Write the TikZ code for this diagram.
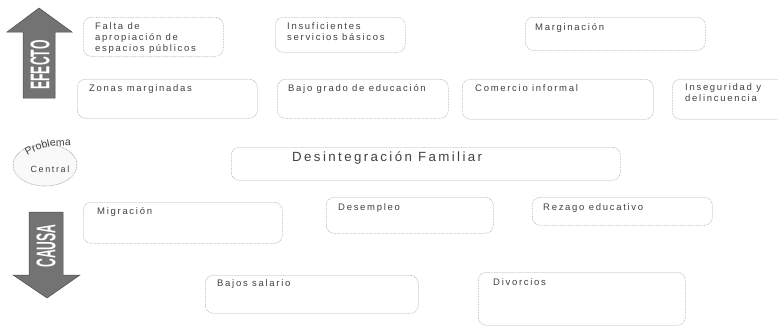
\documentclass[tikz,border=0pt]{standalone}
\usepackage{xcolor}
\usepackage{fontspec}
\usepackage{tikz}
\usetikzlibrary{shapes.geometric,decorations.text}
\newfontfamily\cajafont[LetterSpace=18]{Liberation Sans}
\newfontfamily\flechafont{Liberation Sans}
\newcommand\elipsefont{\cajafont\fontsize{9}{10}\selectfont}
\newcommand\arcofont{\cajafont\fontsize{10.5}{11}\selectfont}

\begin{document}
\begin{tikzpicture}[x=1pt,y=-1pt,
  caja/.style={draw=gray!60,dash pattern=on 0.8pt off 0.8pt,line width=0.6pt,rounded corners=8pt,anchor=north west,inner sep=0pt},
  texto/.style={anchor=north west,inner sep=0pt,align=left,text=black!75,font=\cajafont\fontsize{9.5}{11}\selectfont},
  flecha/.style={fill=black!55,draw=black!70,line width=0.5pt},
  rotulo/.style={rotate=90,text=white,font=\flechafont\bfseries\fontsize{27}{27}\selectfont}]
  \useasboundingbox (0,0) rectangle (778,327);
  \clip (0,0) rectangle (778,327);

  \fill[flecha] (23,98) -- (23,32) -- (7,32) -- (39,8) -- (72,32) -- (55,32) -- (55,98) -- cycle;
  \node[rotulo] (efecto) at (40,65) {\scalebox{0.45}[1]{EFECTO}};
  \fill[flecha] (29,212) -- (63,212) -- (63,275) -- (80,275) -- (47,298) -- (13,275) -- (29,275) -- cycle;
  \node[rotulo] (causa) at (46,246) {\scalebox{0.45}[1]{CAUSA}};

  \node[ellipse,draw=gray!80,dash pattern=on 0.8pt off 0.8pt,line width=0.6pt,fill=gray!5,minimum width=64pt,minimum height=42pt] (central) at (45,165) {};
  \path[decorate,decoration={text along path,text align=center,text color=black!75,text={|\arcofont|Problema}}] (21,161) .. controls (33,149) and (55,143) .. (79,147);
  \node[texto,anchor=center,font=\elipsefont] (centralT) at (50,169) {Central};

  \node[caja,minimum width=140pt,minimum height=39pt] (falta) at (83,17) {};
  \node[texto] (faltaT) at ([shift={(12,5)}]falta.north west) {Falta de\\apropiación de\\espacios públicos};
  \node[caja,minimum width=130pt,minimum height=35pt] (servicios) at (275,17) {};
  \node[texto] (serviciosT) at ([shift={(12,5)}]servicios.north west) {Insuficientes\\servicios básicos};
  \node[caja,minimum width=180pt,minimum height=33pt] (marginacion) at (525,17) {};
  \node[texto] (marginacionT) at ([shift={(10,6)}]marginacion.north west) {Marginación};

  \node[caja,minimum width=180pt,minimum height=39pt] (zonas) at (77,79) {};
  \node[texto] (zonasT) at ([shift={(12,5)}]zonas.north west) {Zonas marginadas};
  \node[caja,minimum width=171pt,minimum height=39pt] (educacion) at (277,79) {};
  \node[texto] (educacionT) at ([shift={(11,5)}]educacion.north west) {Bajo grado de educación};
  \node[caja,minimum width=191pt,minimum height=40pt] (comercio) at (462,79) {};
  \node[texto] (comercioT) at ([shift={(13,5)}]comercio.north west) {Comercio informal};
  \node[caja,minimum width=130pt,minimum height=40pt] (inseguridad) at (672,79) {};
  \node[texto] (inseguridadT) at ([shift={(13,4)}]inseguridad.north west) {Inseguridad y\\delincuencia};

  \node[caja,minimum width=389pt,minimum height=33pt] (desintegracion) at (231,147) {};
  \node[texto,font=\cajafont\fontsize{13.3}{15}\selectfont] (desintegracionT) at ([shift={(61,5)}]desintegracion.north west) {Desintegración Familiar};

  \node[caja,minimum width=199pt,minimum height=41pt] (migracion) at (83,202) {};
  \node[texto] (migracionT) at ([shift={(14,5)}]migracion.north west) {Migración};
  \node[caja,minimum width=167pt,minimum height=36pt] (desempleo) at (326,197) {};
  \node[texto] (desempleoT) at ([shift={(12,6)}]desempleo.north west) {Desempleo};
  \node[caja,minimum width=180pt,minimum height=28pt] (rezago) at (532,197) {};
  \node[texto] (rezagoT) at ([shift={(11,6)}]rezago.north west) {Rezago educativo};

  \node[caja,minimum width=213pt,minimum height=38pt] (salario) at (205,275) {};
  \node[texto] (salarioT) at ([shift={(12,4)}]salario.north west) {Bajos salario};
  \node[caja,minimum width=207pt,minimum height=53pt] (divorcios) at (478,272) {};
  \node[texto] (divorciosT) at ([shift={(15,6)}]divorcios.north west) {Divorcios};
\end{tikzpicture}
\end{document}
